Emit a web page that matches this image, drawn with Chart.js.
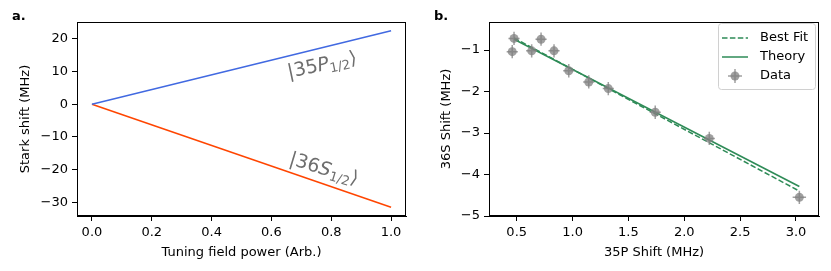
<!DOCTYPE html>
<html>
<head>
<meta charset="utf-8">
<script src="https://cdn.jsdelivr.net/npm/chart.js@4.4.0/dist/chart.umd.min.js"></script>
<style>
  body { margin: 0; background: #fff; }
  #wrap { position: relative; width: 831px; height: 271px; font-family: "DejaVu Sans", sans-serif; }
  .panel { position: absolute; top: 0; }
  .tag { position: absolute; top: 8px; font: bold 13px "DejaVu Sans", sans-serif; color: #000; }
</style>
</head>
<body>
<div id="wrap">
  <div class="panel" style="left:0;width:415px;height:271px"><canvas id="chartA" width="415" height="271"></canvas></div>
  <div class="panel" style="left:415px;width:416px;height:271px"><canvas id="chartB" width="416" height="271"></canvas></div>
  <div class="tag" style="left:12px">a.</div>
  <div class="tag" style="left:434px">b.</div>
</div>
<script>
// panel a: stark shift vs tuning power
var powerX = [0, 1];
var shiftP = [0, 22.5];
var shiftS = [0, -31.5];
var ticksAx = [0, 0.2, 0.4, 0.6, 0.8, 1.0];
var ticksAy = [-30, -20, -10, 0, 10, 20];

// panel b: 36S shift vs 35P shift
var dataX = [0.46, 0.476, 0.634, 0.718, 0.834, 0.966, 1.145, 1.32, 1.74, 2.224, 3.03];
var dataY = [-1.04, -0.72, -1.02, -0.74, -1.02, -1.50, -1.77, -1.93, -2.50, -3.13, -4.55];
var errX = [0.05, 0.05, 0.05, 0.05, 0.05, 0.05, 0.05, 0.05, 0.05, 0.05, 0.06];
var errY = [0.16, 0.16, 0.16, 0.16, 0.16, 0.16, 0.16, 0.16, 0.16, 0.16, 0.16];
var fitX = [0.476, 3.03];
var fitY = [-0.71, -4.40];
var theoryX = [0.476, 3.03];
var theoryY = [-0.74, -4.29];
var ticksBx = [0.5, 1.0, 1.5, 2.0, 2.5, 3.0];
var ticksBy = [-5, -4, -3, -2, -1];

var FONT = { family: 'DejaVu Sans', size: 13 };

function pts(xs, ys) {
  return xs.map(function (x, i) { return { x: x, y: ys[i] }; });
}
function minus(v) { return String(v).replace('-', '\u2212'); }

function axis(min, max, ticks, fmt, title, pad, isY, w) {
  return {
    type: 'linear', min: min, max: max,
    afterBuildTicks: function (s) { s.ticks = ticks.map(function (v) { return { value: v }; }); },
    afterFit: function (s) { if (isY) s.width = w; else s.height = w; },
    grid: { display: true, drawOnChartArea: false, drawTicks: true, tickLength: 5, tickColor: '#000', tickWidth: 1 },
    border: { display: true, color: '#000', width: 1 },
    ticks: { color: '#000', font: FONT, padding: 4, maxRotation: 0, callback: fmt },
    title: { display: true, text: title, color: '#000', font: FONT, padding: pad }
  };
}

var frame = {
  id: 'frame',
  afterDraw: function (c) {
    var a = c.chartArea, ctx = c.ctx;
    ctx.save();
    ctx.strokeStyle = '#000';
    ctx.lineWidth = 1;
    ctx.strokeRect(a.left + 0.5, a.top + 0.5, a.right - a.left - 1, a.bottom - a.top - 1);
    ctx.restore();
  }
};

// rotated ket labels, e.g. |35P_{1/2}>
function ket(ctx, cx, cy, ang, num, letter) {
  var big = '19px "DejaVu Sans"', ital = 'italic 19px "DejaVu Sans"', sub = '13px "DejaVu Sans"';
  var parts = [[big, '|' + num, 0], [ital, letter, 0], [sub, '1/2', 5], [big, '\u27e9', 0]];
  ctx.save();
  ctx.translate(cx, cy);
  ctx.rotate(ang * Math.PI / 180);
  var w = 0;
  parts.forEach(function (p) { ctx.font = p[0]; w += ctx.measureText(p[1]).width; });
  var x = -w / 2;
  ctx.fillStyle = '#6e6e6e';
  ctx.textBaseline = 'middle';
  parts.forEach(function (p) {
    ctx.font = p[0];
    ctx.fillText(p[1], x, p[2]);
    x += ctx.measureText(p[1]).width;
  });
  ctx.restore();
}

var kets = {
  id: 'kets',
  afterDatasetsDraw: function (c) {
    var xs = c.scales.x, ys = c.scales.y;
    ket(c.ctx, xs.getPixelForValue(0.77), ys.getPixelForValue(11.8), -12, '35', 'P');
    ket(c.ctx, xs.getPixelForValue(0.775), ys.getPixelForValue(-20), 17, '36', 'S');
  }
};

new Chart(document.getElementById('chartA'), {
  type: 'scatter',
  data: {
    datasets: [
      { data: pts(powerX, shiftP), showLine: true, borderColor: '#4169e1', borderWidth: 1.5, pointRadius: 0 },
      { data: pts(powerX, shiftS), showLine: true, borderColor: '#ff4500', borderWidth: 1.5, pointRadius: 0 }
    ]
  },
  options: {
    responsive: false,
    animation: false,
    layout: { padding: { top: 22, right: 9, left: 0, bottom: 0 } },
    plugins: { legend: { display: false }, tooltip: { enabled: false } },
    scales: {
      x: axis(-0.05, 1.05, ticksAx, function (v) { return v.toFixed(1); }, 'Tuning field power (Arb.)', { top: 0, bottom: 11 }, false, 55),
      y: axis(-34.2, 25.2, ticksAy, function (v) { return minus(v); }, 'Stark shift (MHz)', { top: 18, bottom: 0 }, true, 77)
    }
  },
  plugins: [frame, kets]
});

var GRAY = 'rgba(128,128,128,0.75)';

var errorBars = {
  id: 'errorBars',
  afterDatasetsDraw: function (c) {
    var xs = c.scales.x, ys = c.scales.y, ctx = c.ctx;
    ctx.save();
    ctx.strokeStyle = GRAY;
    ctx.lineWidth = 1.5;
    dataX.forEach(function (x, i) {
      var y = dataY[i];
      ctx.beginPath();
      ctx.moveTo(xs.getPixelForValue(x - errX[i]), ys.getPixelForValue(y));
      ctx.lineTo(xs.getPixelForValue(x + errX[i]), ys.getPixelForValue(y));
      ctx.moveTo(xs.getPixelForValue(x), ys.getPixelForValue(y - errY[i]));
      ctx.lineTo(xs.getPixelForValue(x), ys.getPixelForValue(y + errY[i]));
      ctx.stroke();
    });
    ctx.restore();
  }
};

var legendBox = {
  id: 'legendBox',
  afterDraw: function (c) {
    var ctx = c.ctx, a = c.chartArea;
    var bx = a.right - 101, by = a.top + 1, bw = 97, bh = 66;
    ctx.save();
    ctx.fillStyle = 'rgba(255,255,255,0.85)';
    ctx.strokeStyle = '#d0d0d0';
    ctx.lineWidth = 1;
    ctx.beginPath();
    ctx.roundRect(bx + 0.5, by + 0.5, bw, bh, 3);
    ctx.fill();
    ctx.stroke();
    var rows = [['Best Fit', 'dash'], ['Theory', 'line'], ['Data', 'pt']];
    ctx.font = '13px "DejaVu Sans"';
    ctx.textBaseline = 'middle';
    rows.forEach(function (r, i) {
      var y = by + 15 + i * 19;
      var x0 = bx + 4, x1 = bx + 30;
      if (r[1] === 'pt') {
        var cx = (x0 + x1) / 2;
        ctx.fillStyle = GRAY;
        ctx.beginPath(); ctx.arc(cx, y, 4.5, 0, Math.PI * 2); ctx.fill();
        ctx.strokeStyle = GRAY; ctx.lineWidth = 1.5;
        ctx.beginPath();
        ctx.moveTo(cx - 7, y); ctx.lineTo(cx + 7, y);
        ctx.moveTo(cx, y - 7); ctx.lineTo(cx, y + 7);
        ctx.stroke();
      } else {
        ctx.strokeStyle = '#2e8b57'; ctx.lineWidth = 1.5;
        ctx.setLineDash(r[1] === 'dash' ? [5.5, 2.4] : []);
        ctx.beginPath(); ctx.moveTo(x0, y); ctx.lineTo(x1, y); ctx.stroke();
        ctx.setLineDash([]);
      }
      ctx.fillStyle = '#000';
      ctx.fillText(r[0], bx + 42, y);
    });
    ctx.restore();
  }
};

new Chart(document.getElementById('chartB'), {
  type: 'scatter',
  data: {
    datasets: [
      { label: 'Best Fit', data: pts(fitX, fitY), showLine: true, borderColor: '#2e8b57', borderWidth: 1.5, borderDash: [5.5, 2.4], pointRadius: 0, order: 2 },
      { label: 'Theory', data: pts(theoryX, theoryY), showLine: true, borderColor: '#2e8b57', borderWidth: 1.5, pointRadius: 0, order: 1 },
      { label: 'Data', data: pts(dataX, dataY), showLine: false, backgroundColor: GRAY, borderWidth: 0, pointRadius: 4.5, order: 0 }
    ]
  },
  options: {
    responsive: false,
    animation: false,
    layout: { padding: { top: 22, right: 12, left: 0, bottom: 0 } },
    plugins: { legend: { display: false }, tooltip: { enabled: false } },
    scales: {
      x: axis(0.252, 3.206, ticksBx, function (v) { return v.toFixed(1); }, '35P Shift (MHz)', { top: 0, bottom: 11 }, false, 55),
      y: axis(-5, -0.325, ticksBy, function (v) { return minus(v); }, '36S Shift (MHz)', { top: 24, bottom: 0 }, true, 74)
    }
  },
  plugins: [frame, errorBars, legendBox]
});
</script>
</body>
</html>
